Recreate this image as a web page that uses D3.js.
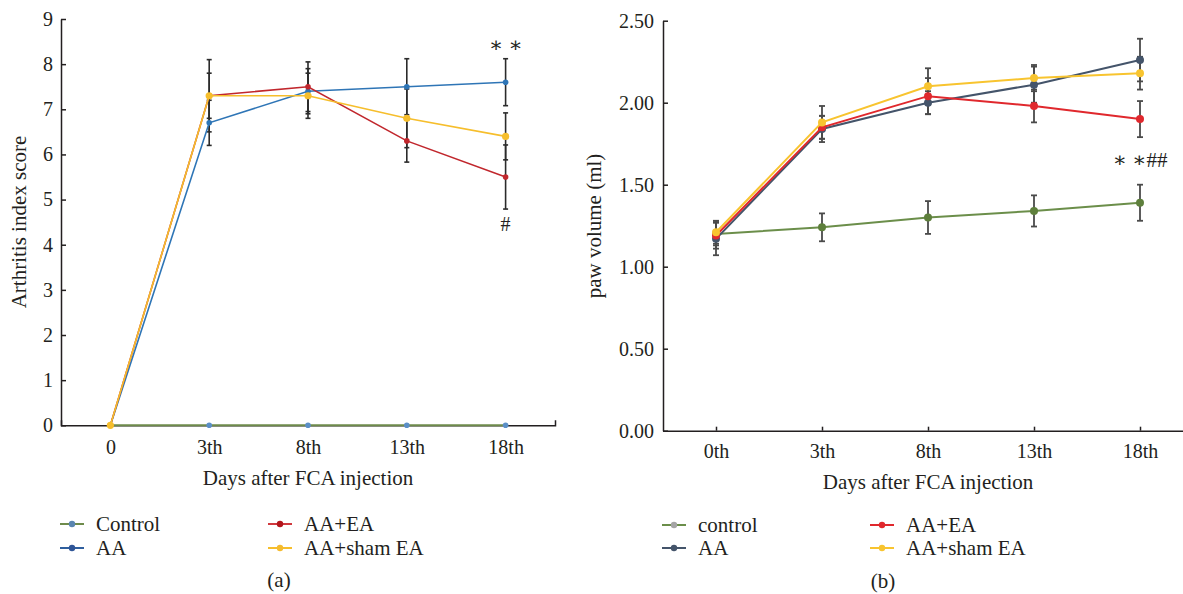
<!DOCTYPE html>
<html lang="en">
<head>
    <meta charset="utf-8">
    <title>Arthritis score and paw volume</title>
    <style>
        body {
            margin: 0;
            background: white;
        }

        svg text {
            font-family: "Liberation Serif", "DejaVu Serif", serif;
            fill: #231f20;
        }
    </style>
</head>
<body>
<svg class="chart"></svg>
<script type="text/javascript" src="https://d3js.org/d3.v7.min.js"></script>
<script>

  // ---- data ----
  const groupsA = ["Control", "AA", "AA+EA", "AA+sham EA"];
  const daysA = ["0", "3th", "8th", "13th", "18th"];
  const ticksA = [0, 1, 2, 3, 4, 5, 6, 7, 8, 9];

  const scoreControl = [0, 0, 0, 0, 0];
  const scoreAA = [0, 6.7, 7.4, 7.5, 7.6];
  const scoreAAEA = [0, 7.3, 7.5, 6.3, 5.5];
  const scoreSham = [0, 7.3, 7.3, 6.8, 6.4];

  const errControl = [0, 0, 0, 0, 0];
  const errAA = [0, 0.5, 0.5, 0.62, 0.52];
  const errAAEA = [0, 0.5, 0.55, 0.47, 0.71];
  const errSham = [0, 0.8, 0.5, 0.65, 0.52];

  const groupsB = ["control", "AA", "AA+EA", "AA+sham EA"];
  const daysB = ["0th", "3th", "8th", "13th", "18th"];
  const ticksB = [0, 0.5, 1, 1.5, 2, 2.5];

  const volControl = [1.20, 1.24, 1.30, 1.34, 1.39];
  const volAA = [1.17, 1.84, 2.00, 2.11, 2.26];
  const volAAEA = [1.19, 1.85, 2.04, 1.98, 1.90];
  const volSham = [1.21, 1.88, 2.10, 2.15, 2.18];

  const errVolControl = [0.07, 0.085, 0.1, 0.095, 0.11];
  const errVolAA = [0.1, 0.08, 0.07, 0.11, 0.13];
  const errVolAAEA = [0.08, 0.07, 0.11, 0.1, 0.11];
  const errVolSham = [0.07, 0.1, 0.11, 0.08, 0.1];

  const colorsA = ["#6e8b4b", "#2e75b6", "#c1272d", "#f6be2c"];
  const dotColorsA = ["#5b8fc7", "#2e75b6", "#c1272d", "#f6be2c"];
  const legendLinesA = ["#6e8b4b", "#2f5f9e", "#d0393e", "#f6be2c"];
  const legendDotsA = ["#5a85b0", "#2f5597", "#b2161c", "#f5bb2e"];
  const colorsB = ["#6b8e4a", "#44546a", "#e0282d", "#f8c42f"];
  const dotColorsB = ["#5e7f3c", "#44546a", "#e0282d", "#f8c42f"];
  const legendDotsB = ["#a5a5a5", "#44546a", "#e0282d", "#f8c42f"];

  const seriesA = [scoreControl, scoreAA, scoreAAEA, scoreSham];
  const errorsA = [errControl, errAA, errAAEA, errSham];
  const seriesB = [volControl, volAA, volAAEA, volSham];
  const errorsB = [errVolControl, errVolAA, errVolAAEA, errVolSham];

  const width = 1183;
  const height = 594;

  const svg = d3.select(".chart")
    .attr("width", width)
    .attr("height", height);

  svg.append("rect").attr("width", width).attr("height", height).attr("fill", "white");

  function styleAxis(g) {
    g.selectAll("path, line").attr("stroke", "#231f20").attr("stroke-width", 1.5);
    g.selectAll("text")
      .attr("font-family", "'Liberation Serif', serif")
      .attr("font-size", 20)
      .attr("fill", "#231f20");
    g.attr("font-family", null).attr("font-size", null);
  }

  // ================= panel (a) =================
  const xA = d3.scalePoint().domain(daysA).range([61, 555]).padding(0.5);
  const yA = d3.scaleLinear().domain([0, 9]).range([425.3, 19]);

  svg.append("g")
    .attr("transform", "translate(61,0)")
    .call(d3.axisLeft(yA).tickValues(ticksA).tickFormat(d3.format("d"))
      .tickSizeInner(-5).tickSizeOuter(0).tickPadding(8))
    .call(styleAxis);

  svg.append("g")
    .attr("transform", "translate(0,425.3)")
    .call(d3.axisBottom(xA).tickSizeInner(0).tickSizeOuter(-5).tickPadding(15))
    .call(styleAxis);

  // error bars
  seriesA.forEach((vals, si) => {
    const g = svg.append("g").attr("stroke", "#2b2b2b").attr("stroke-width", 1.6);
    vals.forEach((v, i) => {
      const e = errorsA[si][i];
      if (!e) return;
      const x = xA(daysA[i]);
      g.append("line").attr("x1", x).attr("x2", x).attr("y1", yA(v - e)).attr("y2", yA(v + e));
      [v - e, v + e].forEach(c => {
        g.append("line").attr("x1", x - 2.5).attr("x2", x + 2.5).attr("y1", yA(c)).attr("y2", yA(c));
      });
    });
  });

  const lineA = d3.line().x((d, i) => xA(daysA[i])).y(d => yA(d));

  seriesA.forEach((vals, si) => {
    svg.append("path")
      .datum(vals)
      .attr("d", lineA)
      .attr("fill", "none")
      .attr("stroke", colorsA[si])
      .attr("stroke-width", si === 0 ? 2 : 1.6);
    svg.append("g").selectAll("circle")
      .data(vals)
      .enter()
      .append("circle")
      .attr("cx", (d, i) => xA(daysA[i]))
      .attr("cy", d => yA(d))
      .attr("r", si === 3 ? 3.6 : 2.8)
      .attr("fill", dotColorsA[si]);
  });

  svg.append("text").attr("x", xA("18th")).attr("y", 45)
    .attr("text-anchor", "middle").attr("dominant-baseline", "central")
    .attr("font-size", 21).text("∗ ∗");
  svg.append("text").attr("x", xA("18th")).attr("y", 224)
    .attr("text-anchor", "middle").attr("dominant-baseline", "central")
    .attr("font-size", 20).text("#");

  svg.append("text")
    .attr("transform", "translate(19,222) rotate(-90)")
    .attr("text-anchor", "middle").attr("dominant-baseline", "central")
    .attr("font-size", 21).text("Arthritis index score");

  svg.append("text").attr("x", xA("8th")).attr("y", 478)
    .attr("text-anchor", "middle").attr("dominant-baseline", "central")
    .attr("font-size", 21).text("Days after FCA injection");

  // legend (a)
  const legendPosA = [[60, 524], [60, 548], [268, 524], [268, 548]];
  groupsA.forEach((name, i) => {
    const [lx, ly] = legendPosA[i];
    svg.append("line").attr("x1", lx).attr("x2", lx + 24).attr("y1", ly).attr("y2", ly)
      .attr("stroke", legendLinesA[i]).attr("stroke-width", 2);
    svg.append("circle").attr("cx", lx + 12).attr("cy", ly).attr("r", 3.2).attr("fill", legendDotsA[i]);
    svg.append("text").attr("x", lx + 36).attr("y", ly)
      .attr("dominant-baseline", "central").attr("font-size", 21).text(name);
  });

  svg.append("text").attr("x", 279).attr("y", 580)
    .attr("text-anchor", "middle").attr("dominant-baseline", "central")
    .attr("font-size", 21).text("(a)");

  // ================= panel (b) =================
  const xB = d3.scalePoint().domain(daysB).range([663, 1193]).padding(0.5);
  const yB = d3.scaleLinear().domain([0, 2.5]).range([430.7, 20.7]);

  svg.append("g")
    .attr("transform", "translate(663,0)")
    .call(d3.axisLeft(yB).tickValues(ticksB).tickFormat(d3.format(".2f"))
      .tickSizeInner(-5).tickSizeOuter(0).tickPadding(9))
    .call(styleAxis);

  svg.append("g")
    .attr("transform", "translate(0,430.7)")
    .call(d3.axisBottom(xB).tickSizeInner(-4).tickSizeOuter(0).tickPadding(13))
    .call(styleAxis);

  seriesB.forEach((vals, si) => {
    const g = svg.append("g").attr("stroke", "#4a4a4a").attr("stroke-width", 1.8);
    vals.forEach((v, i) => {
      const e = errorsB[si][i];
      const x = xB(daysB[i]);
      g.append("line").attr("x1", x).attr("x2", x).attr("y1", yB(v - e)).attr("y2", yB(v + e));
      [v - e, v + e].forEach(c => {
        g.append("line").attr("x1", x - 3).attr("x2", x + 3).attr("y1", yB(c)).attr("y2", yB(c));
      });
    });
  });

  const lineB = d3.line().x((d, i) => xB(daysB[i])).y(d => yB(d));

  seriesB.forEach((vals, si) => {
    svg.append("path")
      .datum(vals)
      .attr("d", lineB)
      .attr("fill", "none")
      .attr("stroke", colorsB[si])
      .attr("stroke-width", 2);
    svg.append("g").selectAll("circle")
      .data(vals)
      .enter()
      .append("circle")
      .attr("cx", (d, i) => xB(daysB[i]))
      .attr("cy", d => yB(d))
      .attr("r", 4)
      .attr("fill", dotColorsB[si]);
  });

  svg.append("text").attr("x", xB("18th")).attr("y", 160)
    .attr("text-anchor", "middle").attr("dominant-baseline", "central")
    .attr("font-size", 21).text("∗ ∗##");

  svg.append("text")
    .attr("transform", "translate(594,226) rotate(-90)")
    .attr("text-anchor", "middle").attr("dominant-baseline", "central")
    .attr("font-size", 21).text("paw volume (ml)");

  svg.append("text").attr("x", xB("8th")).attr("y", 482)
    .attr("text-anchor", "middle").attr("dominant-baseline", "central")
    .attr("font-size", 21).text("Days after FCA injection");

  // legend (b)
  const legendPosB = [[662, 525], [662, 548], [870, 525], [870, 548]];
  groupsB.forEach((name, i) => {
    const [lx, ly] = legendPosB[i];
    svg.append("line").attr("x1", lx).attr("x2", lx + 24).attr("y1", ly).attr("y2", ly)
      .attr("stroke", colorsB[i]).attr("stroke-width", 2);
    svg.append("circle").attr("cx", lx + 12).attr("cy", ly).attr("r", 3.2).attr("fill", legendDotsB[i]);
    svg.append("text").attr("x", lx + 36).attr("y", ly)
      .attr("dominant-baseline", "central").attr("font-size", 21).text(name);
  });

  svg.append("text").attr("x", 883).attr("y", 581)
    .attr("text-anchor", "middle").attr("dominant-baseline", "central")
    .attr("font-size", 21).text("(b)");

</script>

</body>
</html>
